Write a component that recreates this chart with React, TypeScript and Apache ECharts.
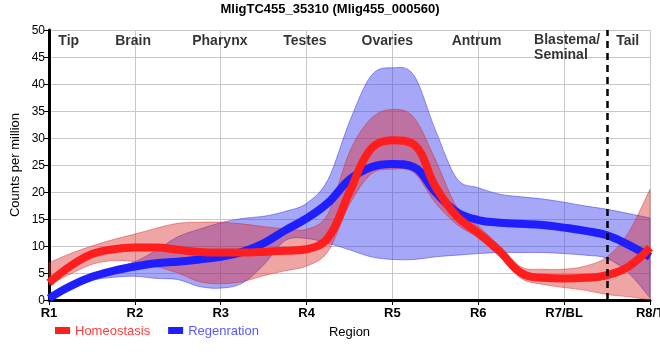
import React, { useEffect, useRef } from 'react';
import * as echarts from 'echarts';

const regions = ['R1', 'R2', 'R3', 'R4', 'R5', 'R6', 'R7/BL', 'R8/T'];
const xPos = [1, 1.25, 1.5, 1.75, 2, 2.25, 2.5, 2.75, 3, 3.25, 3.5, 3.75, 4, 4.25, 4.5, 4.75, 5, 5.25, 5.5, 5.75, 6, 6.25, 6.5, 6.75, 7, 7.25, 7.5, 7.75, 8];

const homeoMean = [3.2, 6.3, 8.5, 9.4, 9.7, 9.7, 9.3, 8.9, 8.8, 8.8, 8.9, 9.1, 9.4, 11.5, 20.0, 28.0, 29.6, 28.8, 21.0, 15.5, 12.4, 9.0, 5.0, 4.1, 4.0, 4.1, 4.6, 6.2, 9.7];
const homeoUpper = [6.9, 8.6, 10.0, 11.2, 12.2, 13.3, 14.2, 14.4, 14.4, 14.1, 13.6, 13.2, 13.1, 16.0, 27.4, 33.6, 35.3, 33.8, 26.0, 17.2, 13.7, 10.0, 6.1, 5.7, 5.7, 6.3, 8.0, 12.5, 20.5];
const homeoLower = [2.8, 4.8, 6.6, 7.3, 7.1, 6.2, 5.0, 3.4, 3.0, 3.4, 4.5, 5.4, 6.3, 9.0, 17.7, 23.3, 24.2, 23.6, 18.0, 14.0, 11.5, 8.0, 4.0, 2.9, 2.3, 1.8, 1.0, 0.6, 0.0];

const regenMean = [0.3, 2.6, 4.3, 5.4, 6.2, 6.8, 7.1, 7.5, 8.0, 8.9, 10.5, 12.9, 15.1, 18.0, 22.3, 24.6, 25.2, 24.6, 20.0, 16.3, 14.8, 14.3, 14.1, 13.9, 13.4, 12.8, 12.0, 10.2, 8.0];
const regenUpper = [0.8, 3.2, 4.8, 6.0, 7.1, 9.2, 11.7, 13.1, 14.3, 15.1, 15.5, 16.4, 17.9, 22.3, 33.0, 41.5, 43.0, 41.6, 31.5, 22.5, 20.8, 19.6, 19.1, 18.7, 18.1, 17.4, 16.8, 16.0, 15.2];
const regenLower = [0.0, 1.8, 3.6, 4.2, 4.4, 4.0, 3.8, 2.5, 2.2, 3.1, 6.5, 11.0, 11.4, 10.5, 9.3, 8.0, 7.5, 7.5, 8.0, 8.3, 8.6, 8.8, 8.8, 8.8, 8.6, 8.3, 7.7, 5.0, 0.4];

const regionNames = ['Tip', 'Brain', 'Pharynx', 'Testes', 'Ovaries', 'Antrum', 'Blastema/\nSeminal', 'Tail'];
const regionNamePos = [1.23, 1.98, 2.99, 3.98, 4.94, 5.98, 6.65, 7.74];
const tailBoundary = 7.5;

const FONT = "'Liberation Sans Narrow', 'Arial Narrow', 'Liberation Sans', sans-serif";

const RED_LINE = '#ff1e1e';
const BLUE_LINE = '#1e1eff';
const RED_BAND = 'rgba(220,40,40,0.42)';
const BLUE_BAND = 'rgba(60,60,240,0.45)';
const RED_EDGE = 'rgba(210,40,40,0.45)';
const BLUE_EDGE = 'rgba(50,50,230,0.5)';

type Pt = number[];

function curveThrough(pts: Pt[]): string {
  let d = '';
  for (let i = 0; i < pts.length - 1; i++) {
    const p0 = pts[i - 1] || pts[i];
    const p1 = pts[i];
    const p2 = pts[i + 1];
    const p3 = pts[i + 2] || p2;
    const c1x = p1[0] + (p2[0] - p0[0]) / 6;
    const c1y = p1[1] + (p2[1] - p0[1]) / 6;
    const c2x = p2[0] - (p3[0] - p1[0]) / 6;
    const c2y = p2[1] - (p3[1] - p1[1]) / 6;
    d += `C${c1x.toFixed(2)},${c1y.toFixed(2)} ${c2x.toFixed(2)},${c2y.toFixed(2)} ${p2[0].toFixed(2)},${p2[1].toFixed(2)}`;
  }
  return d;
}

function bandSeries(name: string, lo: number[], up: number[], fill: string, edge: string) {
  return {
    name,
    type: 'custom',
    silent: true,
    data: xPos.map((x, i) => [x, lo[i], up[i]]),
    encode: { x: 0, y: [1, 2] },
    renderItem: (params: any, api: any) => {
      if (params.dataIndex !== 0) return null;
      const upPts = xPos.map((x, i) => api.coord([x, up[i]]));
      const loPts = xPos.map((x, i) => api.coord([x, lo[i]])).reverse();
      const d =
        `M${upPts[0][0]},${upPts[0][1]}` +
        curveThrough(upPts) +
        `L${loPts[0][0]},${loPts[0][1]}` +
        curveThrough(loPts) +
        'Z';
      return {
        type: 'path',
        shape: { pathData: d },
        style: { fill, stroke: edge, lineWidth: 1 },
      };
    },
  };
}

export default function App() {
  const ref = useRef<HTMLDivElement>(null);
  useEffect(() => {
    if (!ref.current) return;
    const chart = echarts.init(ref.current, undefined, { renderer: 'svg' });
    chart.setOption({
      animation: false,
      textStyle: { fontFamily: FONT },
      title: {
        text: 'MligTC455_35310 (Mlig455_000560)',
        left: 'center',
        top: 2,
        padding: 0,
        textStyle: { fontFamily: FONT, fontSize: 13, fontWeight: 'bold', color: '#000' },
      },
      legend: {
        left: 50,
        top: 319,
        icon: 'rect',
        itemWidth: 15,
        itemHeight: 7,
        itemGap: 18,
        data: [
          { name: 'Homeostasis', textStyle: { color: '#ff3c3c' } },
          { name: 'Regenration', textStyle: { color: '#5a5aff' } },
        ],
        textStyle: { fontFamily: FONT, fontSize: 13 },
      },
      grid: { left: 49, right: 10, top: 30, bottom: 60, containLabel: false, outerBoundsMode: 'none' },
      xAxis: {
        type: 'value',
        min: 1,
        max: 8,
        interval: 1,
        name: 'Region',
        nameLocation: 'middle',
        nameGap: 25,
        nameTextStyle: { fontFamily: FONT, fontSize: 13, color: '#000' },
        axisLine: { lineStyle: { color: '#000', width: 3 } },
        axisTick: { length: 5, lineStyle: { color: '#000', width: 1 } },
        axisLabel: {
          formatter: (v: number) => regions[Math.round(v) - 1] || '',
          fontFamily: FONT,
          fontSize: 13,
          fontWeight: 'bold',
          color: '#000',
          margin: 6,
          hideOverlap: false,
        },
        splitLine: { show: true, lineStyle: { color: '#c8c8c8', width: 1 } },
      },
      yAxis: {
        type: 'value',
        min: 0,
        max: 50,
        interval: 5,
        name: 'Counts per million',
        nameLocation: 'middle',
        nameGap: 22,
        nameTextStyle: { fontFamily: FONT, fontSize: 13, color: '#000' },
        axisLine: { show: true, lineStyle: { color: '#000', width: 3 } },
        axisTick: { show: true, length: 5, lineStyle: { color: '#000', width: 1 } },
        axisLabel: { fontFamily: FONT, fontSize: 12, color: '#000', margin: 4 },
        splitLine: { show: true, lineStyle: { color: '#c8c8c8', width: 1 } },
      },
      series: [
        bandSeries('regenBand', regenLower, regenUpper, BLUE_BAND, BLUE_EDGE),
        {
          name: 'Regenration',
          type: 'line',
          smooth: 0.4,
          symbol: 'none',
          data: xPos.map((x, i) => [x, regenMean[i]]),
          itemStyle: { color: BLUE_LINE },
          lineStyle: { width: 8, color: BLUE_LINE },
          markLine: {
            silent: true,
            symbol: 'none',
            label: { show: false },
            lineStyle: { color: '#000', width: 2.5, type: [7, 5] },
            data: [{ xAxis: tailBoundary }],
          },
        },
        bandSeries('homeoBand', homeoLower, homeoUpper, RED_BAND, RED_EDGE),
        {
          name: 'Homeostasis',
          type: 'line',
          smooth: 0.4,
          symbol: 'none',
          data: xPos.map((x, i) => [x, homeoMean[i]]),
          itemStyle: { color: RED_LINE },
          lineStyle: { width: 8, color: RED_LINE },
        },
        {
          name: 'regions',
          type: 'scatter',
          symbolSize: 0,
          silent: true,
          data: regionNames.map((n, i) => ({
            value: [regionNamePos[i], n.includes('\n') ? 46.9 : 48.1],
            label: {
              show: true,
              formatter: n,
              position: 'inside',
              align: n.includes('\n') ? 'left' : 'center',
              verticalAlign: 'middle',
              fontFamily: FONT,
              fontSize: 14,
              fontWeight: 'bold',
              color: '#000',
              lineHeight: 15,
            },
          })),
        },
      ],
    });
    return () => chart.dispose();
  }, []);
  return <div ref={ref} style={{ position: 'fixed', left: 0, top: 0, width: 660, height: 360 }} />;
}
